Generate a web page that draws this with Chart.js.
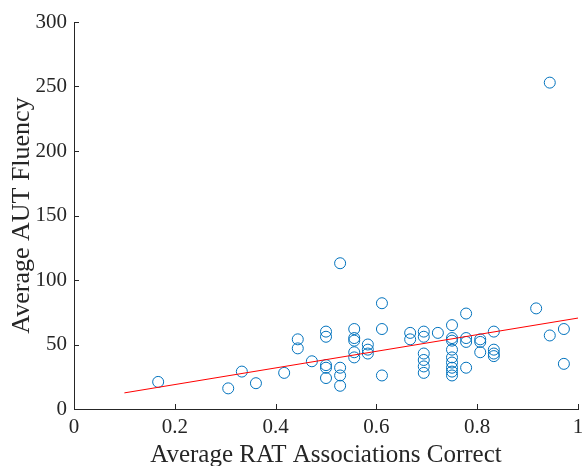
<!DOCTYPE html>
<html>
<head>
<meta charset="utf-8">
<script src="https://cdn.jsdelivr.net/npm/chart.js@4.4.1/dist/chart.umd.min.js"></script>
<style>
html,body{margin:0;padding:0;background:#fff;}
#wrap{width:582px;height:466px;position:relative;}
</style>
</head>
<body>
<div id="wrap"><canvas id="c"></canvas></div>
<script>
// RAT proportion correct (x) and AUT fluency (y) per participant
const ratCorrect = [0.167,0.306,0.333,0.361,0.417,0.444,0.444,0.472,0.5,0.5,0.5,0.5,0.5,
  0.528,0.528,0.528,0.528,0.556,0.556,0.556,0.556,0.556,0.583,0.583,0.583,0.611,0.611,0.611,
  0.667,0.667,0.694,0.694,0.694,0.694,0.694,0.694,0.722,0.75,0.75,0.75,0.75,0.75,0.75,0.75,0.75,0.75,
  0.778,0.778,0.778,0.778,0.806,0.806,0.806,0.833,0.833,0.833,0.833,0.917,0.944,0.944,0.972,0.972];
const autFluency = [21,16,29,20,28,54,47,37,60,56,34,32,24,
  113,32,26,18,62,55,53,44,40,50,46,43,82,62,26,
  59,54,60,56,43,38,33,28,59,65,55,53,46,40,36,32,29,26,
  74,55,52,32,54,52,44,60,46,43,41,78,57,253,62,35];
// fitted regression line endpoints
const fitX = [0.1, 1.0];
const fitY = [12.5, 70.5];
// axis ticks
const xTicks = [0,0.2,0.4,0.6,0.8,1];
const yTicks = [0,50,100,150,200,250,300];

const axisColor = '#262626';
const fam = '"Liberation Serif","Times New Roman",serif';
const font = {family:fam, size:21};

const inwardTicks = {
  id:'inwardTicks',
  afterDraw(chart){
    const ctx = chart.ctx, x = chart.scales.x, y = chart.scales.y;
    const a = chart.chartArea;
    ctx.save();
    ctx.strokeStyle = axisColor; ctx.lineWidth = 1;
    ctx.beginPath();
    xTicks.forEach(v=>{const px=Math.round(x.getPixelForValue(v))+0.5; ctx.moveTo(px,a.bottom); ctx.lineTo(px,a.bottom-5);});
    yTicks.forEach(v=>{const py=Math.round(y.getPixelForValue(v))+0.5; ctx.moveTo(a.left,py); ctx.lineTo(a.left+5,py);});
    ctx.stroke();
    ctx.restore();
  }
};

new Chart(document.getElementById('c'), {
  type:'scatter',
  data:{
    datasets:[
      {
        label:'data',
        data: ratCorrect.map((v,i)=>({x:v,y:autFluency[i]})),
        pointStyle:'circle', pointRadius:5.5, pointHoverRadius:5.5,
        backgroundColor:'rgba(0,0,0,0)', borderColor:'#0072BD', borderWidth:1,
        order:1
      },
      {
        label:'fit',
        type:'line',
        data: fitX.map((v,i)=>({x:v,y:fitY[i]})),
        borderColor:'#FF0000', borderWidth:1, pointRadius:0, fill:false,
        order:0
      }
    ]
  },
  options:{
    responsive:true, maintainAspectRatio:false, animation:false,
    devicePixelRatio:1,
    layout:{autoPadding:false, padding:{top:22,right:4,left:0,bottom:0}},
    plugins:{legend:{display:false}, tooltip:{enabled:false}},
    scales:{
      x:{
        type:'linear', min:0, max:1,
        afterBuildTicks(s){ s.ticks = xTicks.map(v=>({value:v})); },
        afterFit(s){ s.height = 57; s.paddingLeft=0; s.paddingRight=0; },
        grid:{display:false, drawTicks:false},
        border:{display:true, color:axisColor, width:1},
        ticks:{color:axisColor, font:font, padding:6, maxRotation:0, autoSkip:false,
          callback:v=>String(v)},
        title:{display:true, text:'Average RAT Associations Correct', color:axisColor,
          font:{family:fam,size:25}, padding:{top:0,bottom:-4}}
      },
      y:{
        type:'linear', min:0, max:300,
        afterBuildTicks(s){ s.ticks = yTicks.map(v=>({value:v})); },
        afterFit(s){ s.width = 74; s.paddingTop=0; s.paddingBottom=0; },
        grid:{display:false, drawTicks:false},
        border:{display:true, color:axisColor, width:1},
        ticks:{color:axisColor, font:font, padding:7, autoSkip:false},
        title:{display:true, text:'Average AUT Fluency', color:axisColor,
          font:{family:fam,size:26}, padding:{top:7,bottom:0}}
      }
    }
  },
  plugins:[inwardTicks]
});
</script>
</body>
</html>
